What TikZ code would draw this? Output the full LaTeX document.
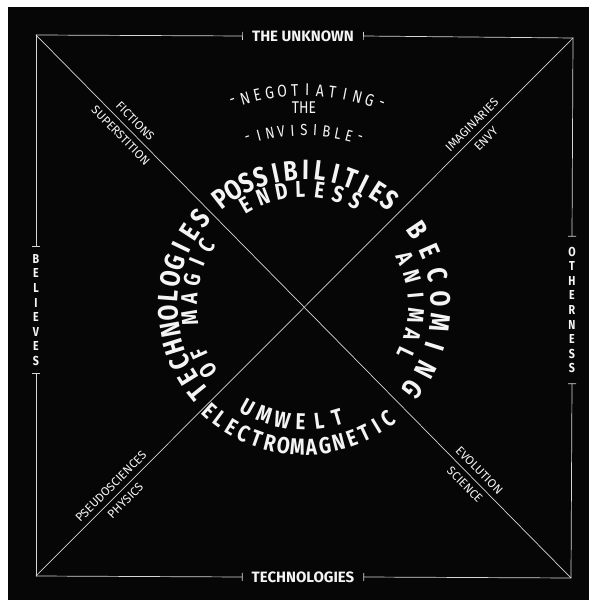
\documentclass[tikz,border=0pt]{standalone}
\usepackage{fontspec}
\setmainfont{Fira Sans}
\newfontfamily\handfont{Fira Sans}[FakeStretch=0.82]
\usetikzlibrary{arrows.meta}
\definecolor{board}{HTML}{060606}
\definecolor{chalk}{HTML}{F4F4F4}
\definecolor{rule}{HTML}{D6D6D6}

\begin{document}
\begin{tikzpicture}[
  x=1pt,y=1pt,
  every node/.style={text=chalk},
  edge/.style={color=rule,line width=0.7pt,line cap=round},
  tick/.style={-{Bar[width=8pt]}},
  axislbl/.style={font=\bfseries\fontsize{15}{15}\selectfont,inner xsep=9pt},
  sidelbl/.style={font=\handfont\bfseries\fontsize{13}{14.6}\selectfont,align=center,inner xsep=0pt},
  diaglbl/.style={font=\fontsize{12}{12}\selectfont,sloped,inner xsep=0pt,inner ysep=5.5pt},
  bigword/.style={font=\handfont\bfseries\fontsize{28}{28}\selectfont,inner sep=0pt},
  midword/.style={font=\handfont\bfseries\fontsize{23}{23}\selectfont,inner sep=0pt},
  thinword/.style={font=\handfont\fontsize{17}{17}\selectfont,inner sep=0pt}
]
\fill[white] (0,0) rectangle (589,600);
\fill[board] (8,0) rectangle (589,593);

% frame corners and centre
\coordinate (tl) at (36,565);
\coordinate (tr) at (573,562);
\coordinate (bl) at (36,24);
\coordinate (br) at (571,22);
\coordinate (O) at (304,294);

% the four axis labels
\node[axislbl] (unknown) at (303,564) {THE UNKNOWN};
\node[axislbl] (techs) at (303,23) {TECHNOLOGIES};
\node[sidelbl,inner ysep=7pt] (believes) at (36,290) {B\\E\\L\\I\\E\\V\\E\\S};
\node[sidelbl,inner ysep=10pt] (otherness) at (572,290) {O\\T\\H\\E\\R\\N\\E\\S\\S};

\draw[edge,tick] (tl) -- (unknown.west);
\draw[edge,tick] (tr) -- (unknown.east);
\draw[edge,tick] (bl) -- (techs.west);
\draw[edge,tick] (br) -- (techs.east);
\draw[edge,tick] (tl) -- (believes.north);
\draw[edge,tick] (bl) -- (believes.south);
\draw[edge,tick] (tr) -- (otherness.north);
\draw[edge,tick] (br) -- (otherness.south);

% diagonals
\draw[edge] (tl) -- (br)
  node[diaglbl,pos=0.172,above] (fictions) {FICTIONS}
  node[diaglbl,pos=0.172,below] (superstition) {SUPERSTITION}
  node[diaglbl,pos=0.815,above] (evolution) {EVOLUTION}
  node[diaglbl,pos=0.815,below] (science) {SCIENCE};
\draw[edge] (bl) -- (tr)
  node[diaglbl,pos=0.153,above] (pseudo) {PSEUDOSCIENCES}
  node[diaglbl,pos=0.153,below] (physics) {PHYSICS}
  node[diaglbl,pos=0.825,above] (imaginaries) {IMAGINARIES}
  node[diaglbl,pos=0.825,below] (envy) {ENVY};

\begin{scope}[shift={(O)}]
% title over the ring
\foreach \ch [count=\i] in {-,N,E,G,O,T,I,A,T,I,N,G,-} {
  \pgfmathsetmacro\a{112.55-3.35*\i}
  \node[thinword,rotate=\a-90] (nego-\i) at (\a:216) {\ch};
}
\node[thinword] (the) at (90:198) {THE};
\foreach \ch [count=\i] in {-,I,N,V,I,S,I,B,L,E,-} {
  \pgfmathsetmacro\a{112.31-3.71*\i}
  \node[thinword,font=\handfont\fontsize{16}{16}\selectfont,rotate=\a-90] (invis-\i) at (\a:176) {\ch};
}

% top
\foreach \ch [count=\i] in {P,O,S,S,I,B,I,L,I,T,I,E,S} {
  \pgfmathsetmacro\a{134.1-6.4*\i}
  \node[bigword,rotate=\a-90] (poss-\i) at (\a:136) {\ch};
}
\foreach \ch [count=\i] in {E,N,D,L,E,S,S} {
  \pgfmathsetmacro\a{129.4-9.4*\i}
  \node[midword,rotate=\a-90] (endl-\i) at (\a:117) {\ch};
}
% left
\foreach \ch [count=\i] in {T,E,C,H,N,O,L,O,G,I,E,S} {
  \pgfmathsetmacro\a{226.2-7.2*\i}
  \node[bigword,rotate=\a-90] (tech-\i) at (\a:136) {\ch};
}
\foreach \ch/\k in {O/0,F/1,M/3,A/4,G/5,I/6,C/7} {
  \pgfmathsetmacro\a{214-9.4*\k}
  \node[midword,rotate=\a-90] (magic-\k) at (\a:115) {\ch};
}
% right
\foreach \ch [count=\i] in {B,E,C,O,M,I,N,G} {
  \pgfmathsetmacro\a{43.9-10.2*\i}
  \node[bigword,rotate=\a-90] (becom-\i) at (\a:137) {\ch};
}
\foreach \ch [count=\i] in {A,N,I,M,A,L} {
  \pgfmathsetmacro\a{35.5-10.1*\i}
  \node[midword,rotate=\a-90] (anim-\i) at (\a:112) {\ch};
}
% bottom
\foreach \ch [count=\i] in {E,L,E,C,T,R,O,M,A,G,N,E,T,I,C} {
  \pgfmathsetmacro\a{222.16+5.64*\i}
  \node[midword,rotate=\a+90] (elec-\i) at (\a:141) {\ch};
}
\foreach \ch [count=\i] in {U,M,W,E,L,T} {
  \pgfmathsetmacro\a{231.64+9.16*\i}
  \node[midword,rotate=\a+90] (umw-\i) at (\a:116) {\ch};
}
\end{scope}
\end{tikzpicture}
\end{document}
